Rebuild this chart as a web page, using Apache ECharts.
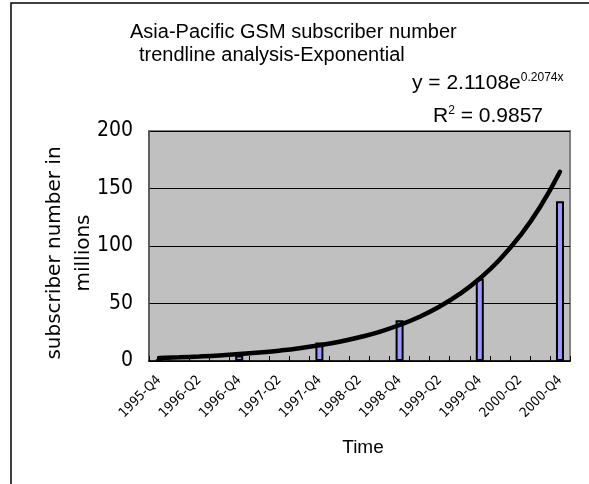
<!DOCTYPE html>
<html><head><meta charset="utf-8">
<script src="https://cdn.jsdelivr.net/npm/echarts@6/dist/echarts.min.js"></script>
<style>html,body{margin:0;padding:0;background:#fff}#c{width:589px;height:484px}</style>
</head><body><div id="c"></div>
<script>
var categories = ['1995-Q4','1996-Q1','1996-Q2','1996-Q3','1996-Q4','1997-Q1','1997-Q2','1997-Q3','1997-Q4','1998-Q1','1998-Q2','1998-Q3','1998-Q4','1999-Q1','1999-Q2','1999-Q3','1999-Q4','2000-Q1','2000-Q2','2000-Q3','2000-Q4'];
var subscribers = [1.2,null,null,null,4.8,null,null,null,16,null,null,null,35.5,null,null,null,71.5,null,null,null,139];
var trendline = [2.6,3.2,3.9,4.8,6.0,7.3,9.0,11.1,13.7,16.8,20.7,25.4,31.3,38.5,47.4,58.3,71.8,88.3,108.7,133.7,164.5];
var yTicks = {min:0, max:200, interval:50};
var titleLine1 = 'Asia-Pacific GSM subscriber number';
var titleLine2 = 'trendline analysis-Exponential';
var eqMain = 'y = 2.1108e', eqExp = '0.2074x';
var r2Main = 'R', r2Sup = '2', r2Val = ' = 0.9857';

var chart = echarts.init(document.getElementById('c'), null, {renderer:'canvas'});
var tf = 'Liberation Sans';
chart.setOption({
  animation:false,
  backgroundColor:'#ffffff',
  grid:{left:149, right:19, top:131, bottom:123, show:true, backgroundColor:'#c0c0c0', borderColor:'#808080', borderWidth:2},
  xAxis:{type:'category', data:categories, boundaryGap:true,
    axisLine:{show:true, lineStyle:{color:'#000', width:1.5}},
    axisTick:{show:true, inside:true, length:5, interval:0, lineStyle:{color:'#000'}},
    axisLabel:{interval:1, rotate:45, margin:17, fontFamily:'DejaVu Sans Condensed', fontSize:13.5, color:'#000'},
    splitLine:{show:false}},
  yAxis:{type:'value', min:yTicks.min, max:yTicks.max, interval:yTicks.interval,
    axisLine:{show:true, lineStyle:{color:'#555', width:1.5}},
    axisTick:{show:false},
    axisLabel:{margin:16, fontFamily:'DejaVu Sans Condensed', fontSize:21, color:'#000', padding:[6,0,0,0]},
    splitLine:{show:true, lineStyle:{color:'#000', width:1}}},
  series:[
    {type:'bar', data:subscribers, barWidth:8, itemStyle:{color:'#9999ff', borderColor:'#000', borderWidth:2}, z:2},
    {type:'line', data:trendline, smooth:true, showSymbol:false, symbol:'none', lineStyle:{color:'#000', width:4.5, cap:'round'}, z:3}
  ],
  graphic:[
    {type:'rect', shape:{x:11, y:3, width:700, height:600}, style:{fill:'none', stroke:'#000', lineWidth:1.5}, z:-1},
    {type:'text', left:130, top:22, style:{text:titleLine1, font:'20px "'+tf+'"', fill:'#000'}},
    {type:'text', left:139, top:45, style:{text:titleLine2, font:'20px "'+tf+'"', fill:'#000'}},
    {type:'text', left:412, top:72, style:{
      text:'{m|'+eqMain+'}{s|'+eqExp+'}',
      rich:{m:{fontFamily:tf, fontSize:21, fill:'#000', verticalAlign:'bottom'}, s:{fontFamily:tf, fontSize:12, fill:'#000', verticalAlign:'top', padding:[0,0,10,0]}}}},
    {type:'text', left:433, top:105, style:{
      text:'{m|'+r2Main+'}{s|'+r2Sup+'}{m|'+r2Val+'}',
      rich:{m:{fontFamily:tf, fontSize:21, fill:'#000'}, s:{fontFamily:tf, fontSize:12, fill:'#000', padding:[0,0,10,0]}}}},
    {type:'text', x:69, y:253, rotation:Math.PI/2, style:{text:'subscriber number in\nmillions', font:'20px "DejaVu Sans"', fill:'#000', align:'center', verticalAlign:'middle', lineHeight:29}},
    {type:'text', x:363, y:448, style:{text:'Time', font:'19px "'+tf+'"', fill:'#000', align:'center', verticalAlign:'middle'}}
  ]
});
</script></body></html>
